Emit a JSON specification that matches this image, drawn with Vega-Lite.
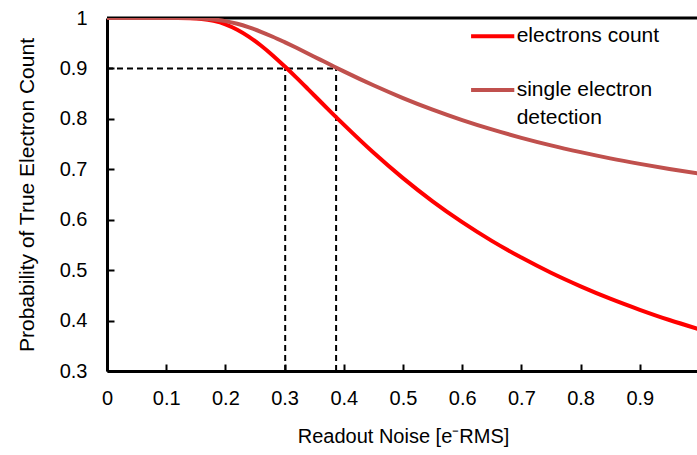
{
  "$schema": "https://vega.github.io/schema/vega-lite/v6.json",
  "autosize": "none",
  "padding": {"left": 107, "top": 18, "right": 0, "bottom": 84},
  "width": 592,
  "height": 353,
  "background": "white",
  "config": {
    "view": {"stroke": null},
    "font": "Liberation Sans",
    "axis": {
      "grid": false,
      "domainColor": "black",
      "domainWidth": 3,
      "tickColor": "black",
      "tickWidth": 2,
      "tickSize": -7,
      "labelFont": "Liberation Sans",
      "labelFontSize": 20,
      "labelColor": "black",
      "labelFlush": false,
      "titleFont": "Liberation Sans",
      "titleFontSize": 20,
      "titleFontWeight": "normal",
      "titleColor": "black"
    }
  },
  "datasets": {
    "curves": [
      {"series": "electrons count", "x": 0, "p": 1},
      {"series": "electrons count", "x": 0.05, "p": 1},
      {"series": "electrons count", "x": 0.1, "p": 1},
      {"series": "electrons count", "x": 0.12, "p": 0.99996},
      {"series": "electrons count", "x": 0.14, "p": 0.9996},
      {"series": "electrons count", "x": 0.16, "p": 0.9982},
      {"series": "electrons count", "x": 0.18, "p": 0.9943},
      {"series": "electrons count", "x": 0.2, "p": 0.9876},
      {"series": "electrons count", "x": 0.22, "p": 0.9769},
      {"series": "electrons count", "x": 0.24, "p": 0.9627},
      {"series": "electrons count", "x": 0.26, "p": 0.9454},
      {"series": "electrons count", "x": 0.28, "p": 0.9257},
      {"series": "electrons count", "x": 0.3, "p": 0.9042},
      {"series": "electrons count", "x": 0.32, "p": 0.8818},
      {"series": "electrons count", "x": 0.34, "p": 0.8585},
      {"series": "electrons count", "x": 0.36, "p": 0.8349},
      {"series": "electrons count", "x": 0.38, "p": 0.8115},
      {"series": "electrons count", "x": 0.4, "p": 0.7885},
      {"series": "electrons count", "x": 0.45, "p": 0.7332},
      {"series": "electrons count", "x": 0.5, "p": 0.6825},
      {"series": "electrons count", "x": 0.55, "p": 0.6365},
      {"series": "electrons count", "x": 0.6, "p": 0.5952},
      {"series": "electrons count", "x": 0.65, "p": 0.5581},
      {"series": "electrons count", "x": 0.7, "p": 0.5249},
      {"series": "electrons count", "x": 0.75, "p": 0.4948},
      {"series": "electrons count", "x": 0.8, "p": 0.4679},
      {"series": "electrons count", "x": 0.85, "p": 0.4434},
      {"series": "electrons count", "x": 0.9, "p": 0.4214},
      {"series": "electrons count", "x": 0.95, "p": 0.4011},
      {"series": "electrons count", "x": 1.0, "p": 0.3829},
      {"series": "single electron detection", "x": 0, "p": 1},
      {"series": "single electron detection", "x": 0.05, "p": 1},
      {"series": "single electron detection", "x": 0.1, "p": 1},
      {"series": "single electron detection", "x": 0.12, "p": 0.99998},
      {"series": "single electron detection", "x": 0.14, "p": 0.9998},
      {"series": "single electron detection", "x": 0.16, "p": 0.9991},
      {"series": "single electron detection", "x": 0.18, "p": 0.9972},
      {"series": "single electron detection", "x": 0.2, "p": 0.9938},
      {"series": "single electron detection", "x": 0.22, "p": 0.9885},
      {"series": "single electron detection", "x": 0.24, "p": 0.9813},
      {"series": "single electron detection", "x": 0.26, "p": 0.9727},
      {"series": "single electron detection", "x": 0.28, "p": 0.9629},
      {"series": "single electron detection", "x": 0.3, "p": 0.9521},
      {"series": "single electron detection", "x": 0.32, "p": 0.9409},
      {"series": "single electron detection", "x": 0.34, "p": 0.9292},
      {"series": "single electron detection", "x": 0.36, "p": 0.9175},
      {"series": "single electron detection", "x": 0.38, "p": 0.9058},
      {"series": "single electron detection", "x": 0.4, "p": 0.8942},
      {"series": "single electron detection", "x": 0.45, "p": 0.8666},
      {"series": "single electron detection", "x": 0.5, "p": 0.8413},
      {"series": "single electron detection", "x": 0.55, "p": 0.8183},
      {"series": "single electron detection", "x": 0.6, "p": 0.7976},
      {"series": "single electron detection", "x": 0.65, "p": 0.7791},
      {"series": "single electron detection", "x": 0.7, "p": 0.7624},
      {"series": "single electron detection", "x": 0.75, "p": 0.7474},
      {"series": "single electron detection", "x": 0.8, "p": 0.7340},
      {"series": "single electron detection", "x": 0.85, "p": 0.7217},
      {"series": "single electron detection", "x": 0.9, "p": 0.7107},
      {"series": "single electron detection", "x": 0.95, "p": 0.7006},
      {"series": "single electron detection", "x": 1.0, "p": 0.6914}
    ],
    "guides": [
      {"x": 0, "x2": 0.387, "y": 0.9, "y2": 0.9},
      {"x": 0.301, "x2": 0.301, "y": 0.3, "y2": 0.9},
      {"x": 0.387, "x2": 0.387, "y": 0.3, "y2": 0.9}
    ],
    "legendLines": [
      {"series": "electrons count", "x": 0.615, "x2": 0.688, "y": 0.964},
      {"series": "single electron detection", "x": 0.615, "x2": 0.688, "y": 0.857}
    ],
    "legendText": [
      {"label": "electrons count", "x": 0.692, "y": 0.964},
      {"label": "single electron", "x": 0.692, "y": 0.857},
      {"label": "detection", "x": 0.692, "y": 0.801}
    ],
    "border": [{"x": 0, "x2": 1, "y": 1}]
  },
  "layer": [
    {
      "data": {"name": "border"},
      "mark": {"type": "rule", "color": "black", "strokeWidth": 3},
      "encoding": {
        "x": {"field": "x", "type": "quantitative",
          "scale": {"domain": [0, 1], "nice": false, "zero": false},
          "axis": {"values": [0, 0.1, 0.2, 0.3, 0.4, 0.5, 0.6, 0.7, 0.8, 0.9], "format": ".1~f", "title": "Readout Noise [e⁻RMS]", "labelPadding": 24, "titlePadding": 18}},
        "x2": {"field": "x2"},
        "y": {"field": "y", "type": "quantitative",
          "scale": {"domain": [0.3, 1], "nice": false, "zero": false},
          "axis": {"values": [0.3, 0.4, 0.5, 0.6, 0.7, 0.8, 0.9, 1], "format": ".1~f", "title": "Probability of True Electron Count", "titleFontSize": 21, "labelPadding": 27, "titlePadding": 22}}
      }
    },
    {
      "data": {"name": "guides"},
      "mark": {"type": "rule", "color": "black", "strokeWidth": 2, "strokeDash": [6, 4]},
      "encoding": {
        "x": {"field": "x", "type": "quantitative"},
        "x2": {"field": "x2"},
        "y": {"field": "y", "type": "quantitative"},
        "y2": {"field": "y2"}
      }
    },
    {
      "data": {"name": "curves"},
      "mark": {"type": "line", "strokeWidth": 4, "interpolate": "monotone", "clip": true},
      "encoding": {
        "x": {"field": "x", "type": "quantitative"},
        "y": {"field": "p", "type": "quantitative"},
        "color": {"field": "series", "type": "nominal",
          "scale": {"domain": ["electrons count", "single electron detection"], "range": ["#FF0000", "#C0504D"]},
          "legend": null}
      }
    },
    {
      "data": {"name": "legendLines"},
      "mark": {"type": "rule", "strokeWidth": 4},
      "encoding": {
        "x": {"field": "x", "type": "quantitative"},
        "x2": {"field": "x2"},
        "y": {"field": "y", "type": "quantitative"},
        "color": {"field": "series", "type": "nominal", "legend": null}
      }
    },
    {
      "data": {"name": "legendText"},
      "mark": {"type": "text", "align": "left", "baseline": "middle", "fontSize": 21, "font": "Liberation Sans", "color": "black"},
      "encoding": {
        "x": {"field": "x", "type": "quantitative"},
        "y": {"field": "y", "type": "quantitative"},
        "text": {"field": "label"}
      }
    }
  ]
}
